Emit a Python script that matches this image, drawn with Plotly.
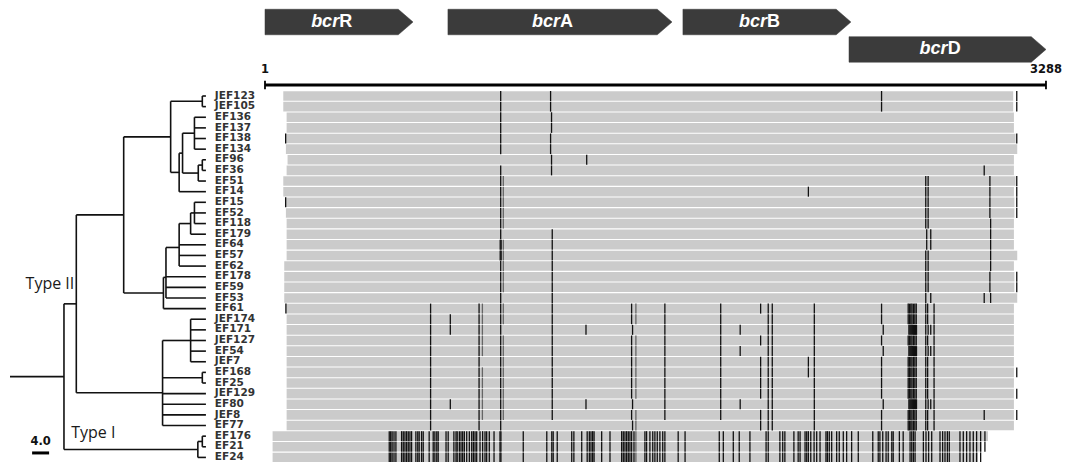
import plotly.graph_objects as go

# ---------------- data ----------------
taxa = ["JEF123", "JEF105", "EF136", "EF137", "EF138", "EF134", "EF96", "EF36", "EF51", "EF14",
        "EF15", "EF52", "EF118", "EF179", "EF64", "EF57", "EF62", "EF178", "EF59", "EF53", "EF61",
        "JEF174", "EF171", "JEF127", "EF54", "JEF7", "EF168", "EF25", "JEF129", "EF80", "JEF8", "EF77",
        "EF176", "EF21", "EF24"]

seq_start = [78, 78, 92, 92, 88, 89, 96, 92, 78, 78, 85, 89, 92, 92, 92, 92, 82, 82, 82, 82, 89,
             92, 92, 92, 92, 92, 92, 92, 92, 92, 92, 92, 33, 33, 33]
seq_end = [3150, 3150, 3153, 3153, 3160, 3167, 3153, 3153, 3160, 3153, 3155, 3155, 3153, 3153, 3153,
           3167, 3153, 3155, 3155, 3167, 3153, 3153, 3153, 3153, 3153, 3153, 3153, 3153, 3153, 3153,
           3153, 3153, 3044, 3017, 3002]

genes = ["bcrR", "bcrA", "bcrB", "bcrD"]
gene_start = [1, 771, 1760, 2459]
gene_end = [624, 1714, 2467, 3288]
gene_lane = [0, 0, 0, 1]

aln_length = 3288

block_striped = [2708, 2713, 2719, 2724, 2730, 2736, 2742]
block_solid = [2711, 2715, 2719, 2723, 2727, 2731, 2735, 2739, 2743]

variant_sites = {
    "JEF123": [993, 1203, 2596, 3165],
    "JEF105": [993, 1203, 2596, 3165],
    "EF136": [993, 1207],
    "EF137": [993, 1207],
    "EF138": [88, 993, 1203, 3165],
    "EF134": [993, 1203],
    "EF96": [1207, 1355],
    "EF36": [993, 1207, 3028],
    "EF51": [993, 1004, 2782, 2792, 3052, 3165],
    "EF14": [993, 1004, 2288, 2782, 2792, 3052, 3165],
    "EF15": [88, 993, 1004, 2782, 2792, 3052, 3165],
    "EF52": [993, 1004, 2782, 2792, 3052, 3165],
    "EF118": [993, 1004, 2782, 2792, 3055],
    "EF179": [993, 1210, 2786, 2803, 3055],
    "EF64": [991, 995, 1004, 1210, 2786, 2803, 3055],
    "EF57": [991, 995, 1004, 1210, 2782, 2792, 3055],
    "EF62": [993, 1004, 1210, 2782, 2792, 3055],
    "EF178": [993, 1004, 1210, 2782, 2792, 3052, 3165],
    "EF59": [993, 1004, 1210, 2782, 2792, 3052, 3165],
    "EF53": [993, 1210, 2782, 2803, 3028, 3055],
    "EF61": [89, 698, 902, 916, 993, 1004, 1210, 1544, 1562, 1684, 1919, 2087, 2119, 2136, 2313,
             2596] + block_striped + [2782, 2790, 2817],
    "JEF174": [698, 781, 902, 916, 993, 1004, 1210, 1544, 1562, 1684, 1919, 2119, 2136, 2313,
               2596] + block_striped + [2782, 2790, 2817],
    "EF171": [698, 781, 902, 916, 993, 1210, 1352, 1548, 1684, 1919, 2001, 2119, 2136, 2313,
              2603] + block_solid + [2782, 2792, 2803, 2817],
    "JEF127": [698, 902, 916, 993, 1004, 1210, 1544, 1562, 1684, 1919, 2087, 2119, 2136, 2313,
               2596] + block_striped + [2782, 2790, 2817],
    "EF54": [698, 902, 916, 993, 1004, 1210, 1544, 1562, 1684, 1919, 2001, 2119, 2136, 2313,
             2603] + block_solid + [2782, 2792, 2803, 2817],
    "JEF7": [698, 902, 993, 1004, 1210, 1544, 1562, 1684, 1919, 2087, 2119, 2136, 2288, 2313,
             2596] + block_striped + [2782, 2790, 2817],
    "EF168": [698, 902, 916, 993, 1004, 1210, 1544, 1562, 1684, 1919, 2087, 2119, 2136, 2288, 2313,
              2596] + block_striped + [2782, 2790, 2817, 3165],
    "EF25": [698, 902, 916, 993, 1004, 1210, 1544, 1562, 1684, 1919, 2087, 2119, 2136, 2313,
             2596] + block_striped + [2782, 2790, 2817],
    "JEF129": [698, 902, 916, 993, 1004, 1210, 1544, 1562, 1684, 1919, 2087, 2119, 2136, 2313,
               2596] + block_striped + [2782, 2790, 2817, 3165],
    "EF80": [698, 781, 902, 916, 993, 1004, 1210, 1352, 1548, 1684, 1919, 2001, 2119, 2136, 2313,
             2603] + block_solid + [2782, 2792, 2803, 2817],
    "JEF8": [698, 902, 916, 993, 1004, 1210, 1544, 1562, 1684, 1919, 2087, 2119, 2136, 2313,
             2596] + block_striped + [2782, 2790, 2817, 3028, 3165],
    "EF77": [698, 902, 993, 1548, 1562, 2087, 2119, 2136, 2313, 2596] + block_striped
             + [2782, 2790, 2817],
}

type1_sites = [524, 530, 536, 544, 552, 576, 583, 590, 597, 604, 611, 618, 636, 644, 650, 660, 667,
               692, 709, 716, 724, 730, 763, 772, 796, 805, 810, 819, 826, 833, 840, 850, 861, 871,
               878, 885, 892, 906, 917, 927, 934, 945, 965, 990, 994, 1088, 1187, 1208, 1214, 1231,
               1292, 1301, 1334, 1357, 1366, 1373, 1380, 1386, 1418, 1453, 1502, 1509, 1516, 1523,
               1530, 1537, 1544, 1554, 1562, 1600, 1607, 1621, 1633, 1642, 1652, 1663, 1675, 1684,
               1740, 1769, 1913, 1930, 1972, 1997, 2042, 2110, 2119, 2168, 2180, 2189, 2227, 2245,
               2253, 2274, 2281, 2288, 2298, 2312, 2323, 2337, 2362, 2368, 2376, 2386, 2407, 2418,
               2435, 2449, 2470, 2498, 2559, 2582, 2589, 2601, 2615, 2624, 2639, 2645, 2671, 2687,
               2716, 2723, 2730, 2737, 2772, 2783, 2794, 2807, 2842, 2853, 2863, 2873, 2881, 2926,
               2940, 2954, 2968, 2982, 2996, 3013, 3031]
for t in ["EF176", "EF21", "EF24"]:
    variant_sites[t] = type1_sites

faint_sites = [916, 1004, 1562]

# tree (branch depths in substitution units, scale bar 4.0)
tree_children = {
    "root": ["T2", "T1"],
    "T2": ["N1", "F"],
    "N1": ["A", "C"],
    "A": ["P1", "B"],
    "P1": ["JEF123", "JEF105"],
    "B": ["B2", "EF14"],
    "B2": ["H", "I"],
    "H": ["EF136", "EF137", "EF138", "EF134"],
    "I": ["P2", "EF51"],
    "P2": ["EF96", "EF36"],
    "C": ["D", "EF61"],
    "D": ["E", "EF178", "EF59", "EF53"],
    "E": ["E1", "EF64", "EF57", "EF62"],
    "E1": ["E2", "EF179"],
    "E2": ["EF15", "EF52", "EF118"],
    "F": ["G", "P3", "JEF129", "EF80", "JEF8", "EF77"],
    "G": ["JEF174", "EF171", "JEF127", "EF54", "JEF7"],
    "P3": ["EF168", "EF25"],
    "T1": ["P4", "EF24"],
    "P4": ["EF176", "EF21"],
}
node_depth = {"root": 12.7, "T2": 15.6, "N1": 26.75, "A": 37.8, "P1": 45.25, "B": 39.8,
              "B2": 40.6, "H": 43.4, "I": 44.3, "P2": 45.25, "C": 36.1, "D": 36.7, "E": 39.8,
              "E1": 42.5, "E2": 43.4, "F": 35.9, "G": 42.5, "P3": 45.25, "T1": 44.2, "P4": 45.25}
tip_depth = 46.1
scale_bar = 4.0

# ---------------- figure ----------------
fig = go.Figure()

rows = list(range(len(taxa)))

# alignment bars
fig.add_trace(go.Bar(
    y=rows, x=[e - s for s, e in zip(seq_start, seq_end)], base=seq_start,
    orientation="h", width=0.9, marker=dict(color="#cbcbcb", line=dict(width=0)),
    xaxis="x", yaxis="y", hoverinfo="skip"))

# variant sites
bx, by, gx, gy = [], [], [], []
for r, t in enumerate(taxa):
    for p in variant_sites[t]:
        if p > seq_end[r] + 20:
            continue
        if p in faint_sites:
            gx += [p, p, None]; gy += [r - 0.47, r + 0.47, None]
        else:
            bx += [p, p, None]; by += [r - 0.47, r + 0.47, None]
fig.add_trace(go.Scatter(x=gx, y=gy, mode="lines", line=dict(color="#666666", width=1.3),
                         xaxis="x", yaxis="y", hoverinfo="skip"))
fig.add_trace(go.Scatter(x=bx, y=by, mode="lines", line=dict(color="#111111", width=1.3),
                         xaxis="x", yaxis="y", hoverinfo="skip"))

# ruler
ruler_row = -1.03
fig.add_trace(go.Scatter(x=[1, aln_length], y=[ruler_row, ruler_row], mode="lines",
                         line=dict(color="black", width=3), xaxis="x", yaxis="y"))
fig.add_trace(go.Scatter(x=[1, 1, None, aln_length, aln_length, None],
                         y=[ruler_row - 0.4, ruler_row + 0.4, None, ruler_row - 0.4, ruler_row + 0.4, None],
                         mode="lines", line=dict(color="black", width=1.8), xaxis="x", yaxis="y"))
fig.add_trace(go.Scatter(x=[1, aln_length], y=[-2.4, -2.4], mode="text",
                         text=["<b>1</b>", "<b>3288</b>"], textposition="middle center",
                         textfont=dict(family="DejaVu Sans", size=11.5, color="#111"),
                         xaxis="x", yaxis="y"))

# gene arrows
lane_center = [-6.96, -4.38]
half_h = 1.2
head = 62
for g, s, e, ln in zip(genes, gene_start, gene_end, gene_lane):
    c = lane_center[ln]
    fig.add_trace(go.Scatter(
        x=[s, e - head, e, e - head, s, s], y=[c - half_h, c - half_h, c, c + half_h, c + half_h, c - half_h],
        mode="lines", fill="toself", fillcolor="#3b3b3b", line=dict(color="#3b3b3b", width=0.5),
        xaxis="x", yaxis="y", hoverinfo="skip"))
    fig.add_trace(go.Scatter(
        x=[(s + e - head) / 2], y=[c], mode="text",
        text=["<i>" + g[:3] + "</i>" + g[3:]], textposition="middle center",
        textfont=dict(family="Liberation Sans, Arial", size=18, weight="bold", color="white"),
        xaxis="x", yaxis="y"))

# tree
leaf_row = {t: i for i, t in enumerate(taxa)}
node_y = {}


def get_y(n):
    if n in leaf_row:
        return leaf_row[n]
    if n not in node_y:
        ys = [get_y(c) for c in tree_children[n]]
        node_y[n] = sum(ys) / len(ys)
    return node_y[n]


def get_depth(n):
    return tip_depth if n in leaf_row else node_depth[n]


tx, ty = [0, node_depth["root"], None], [get_y("root"), get_y("root"), None]
for n, ch in tree_children.items():
    d = node_depth[n]
    ys = [get_y(c) for c in ch]
    tx += [d, d, None]; ty += [min(ys), max(ys), None]
    for c in ch:
        tx += [d, get_depth(c), None]; ty += [get_y(c), get_y(c), None]
fig.add_trace(go.Scatter(x=tx, y=ty, mode="lines", line=dict(color="#111111", width=1.6),
                         xaxis="x2", yaxis="y", hoverinfo="skip"))

# taxon labels
fig.add_trace(go.Scatter(x=[tip_depth + 2.1] * len(taxa), y=rows, mode="text", text=taxa,
                         textposition="middle right",
                         textfont=dict(family="DejaVu Sans", size=10.5, weight="bold", color="#333333"),
                         xaxis="x2", yaxis="y", hoverinfo="skip"))

# clade labels
fig.add_trace(go.Scatter(x=[9.4, 19.6], y=[17.75, 31.75], mode="text", text=["Type II", "Type I"],
                         textposition="middle center",
                         textfont=dict(family="Open Sans", size=16, color="#1a1a1a"),
                         xaxis="x2", yaxis="y", hoverinfo="skip"))

# scale bar
sb_x0 = 5.2
fig.add_trace(go.Scatter(x=[sb_x0, sb_x0 + scale_bar], y=[33.58, 33.58], mode="lines",
                         line=dict(color="black", width=3), xaxis="x2", yaxis="y"))
fig.add_trace(go.Scatter(x=[sb_x0 + scale_bar / 2], y=[32.55], mode="text", text=["<b>4.0</b>"],
                         textposition="middle center",
                         textfont=dict(family="DejaVu Sans", size=11.5, color="#111"),
                         xaxis="x2", yaxis="y"))

# page body has an 8px default margin; figure is sized to fill the rest of the window
fig.update_layout(
    width=1065, height=454, margin=dict(l=0, r=0, t=0, b=0),
    paper_bgcolor="white", plot_bgcolor="white", showlegend=False, barmode="overlay",
    xaxis=dict(range=[-1080.6, 3401.7], visible=False, domain=[0, 1]),
    xaxis2=dict(range=[-0.4706, 250.12], visible=False, overlaying="x", anchor="y"),
    yaxis=dict(range=[34.431, -8.278], visible=False),
)

fig.write_html("out.html")
